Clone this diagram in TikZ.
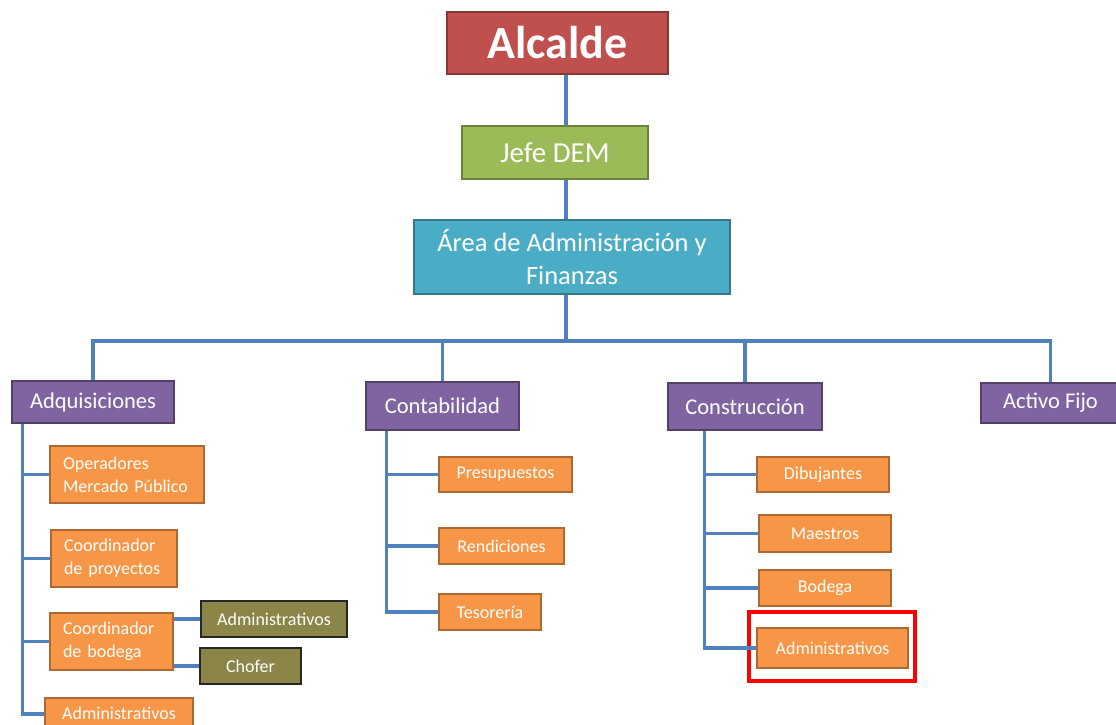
\documentclass[tikz,border=0pt]{standalone}
\usepackage{fontspec}
\setmainfont{Carlito}
\definecolor{alcred}{HTML}{C0504D}
\definecolor{jefegreen}{HTML}{9BBB59}
\definecolor{areateal}{HTML}{4BACC6}
\definecolor{deptpurple}{HTML}{8064A2}
\definecolor{unitorange}{HTML}{F79646}
\definecolor{subolive}{HTML}{8B8547}
\definecolor{wireblue}{HTML}{4F81BD}
\begin{document}
\begin{tikzpicture}[x=1pt,y=-1pt,
  box/.style={draw, line width=1.8pt, inner sep=0pt, text=white},
  top/.style={box, fill=alcred, draw=alcred!70!black},
  boss/.style={box, fill=jefegreen, draw=jefegreen!70!black},
  areabox/.style={box, fill=areateal, draw=areateal!70!black},
  dept/.style={box, fill=deptpurple, draw=deptpurple!65!black, font=\fontsize{22.5}{26}\selectfont},
  unit/.style={box, fill=unitorange, draw=unitorange!70!black, font=\fontsize{18}{23}\selectfont},
  sub/.style={box, fill=subolive, draw=black!85, font=\fontsize{18}{22}\selectfont},
  wire/.style={draw=wireblue, line width=3.2pt},
  hilite/.style={draw=red, line width=4pt, inner sep=0pt}
]
\useasboundingbox (0,0) rectangle (1116,725);
\clip (0,0) rectangle (1116,725);
\fill[white] (0,0) rectangle (1116,725);

% Top of the hierarchy
\node[top, minimum width=221, minimum height=62, font=\fontsize{46}{50}\selectfont\bfseries] (alc) at (557.5,43) {Alcalde};
\node[boss, minimum width=186, minimum height=53, font=\fontsize{29}{32}\selectfont] (jefe) at (555,152.5) {Jefe DEM};
\node[areabox, minimum width=316, minimum height=74, align=center, font=\fontsize{26.5}{33}\selectfont] (area) at (572,257) {Área de Administración y\\Finanzas};

% Departments
\node[dept, minimum width=162, minimum height=42] (adq) at (93,402) {Adquisiciones};
\node[dept, minimum width=153, minimum height=48] (cont) at (442.5,406) {Contabilidad};
\node[dept, minimum width=154, minimum height=47] (cons) at (745,406.5) {Construcción};
\node[dept, minimum width=139, minimum height=40] (act) at (1050.5,403) {Activo Fijo};

% Adquisiciones units
\node[unit, minimum width=154, minimum height=57, text width=128, align=left] (op) at (127,474.5) {Operadores\\Mercado Público};
\node[unit, minimum width=126, minimum height=57, text width=100, align=left] (cp) at (114,558.5) {Coordinador\\de proyectos};
\node[unit, minimum width=123, minimum height=57, text width=97, align=left] (cb) at (111.5,641.5) {Coordinador\\de bodega};
\node[unit, anchor=north, minimum width=148, inner ysep=9pt, text depth=24pt] (ad1) at (119,697) {Administrativos};
\node[sub, minimum width=146, minimum height=36] (ad2) at (274,619) {Administrativos};
\node[sub, minimum width=101, minimum height=36] (cho) at (250.5,666) {Chofer};

% Contabilidad units
\node[unit, minimum width=133, minimum height=35] (pre) at (505.5,474.5) {Presupuestos};
\node[unit, minimum width=125, minimum height=36] (ren) at (501.5,546) {Rendiciones};
\node[unit, minimum width=102, minimum height=36] (tes) at (490,612) {Tesorería};

% Construcción units
\node[unit, minimum width=132, minimum height=35] (dib) at (823,474.5) {Dibujantes};
\node[unit, minimum width=132, minimum height=37] (mae) at (825,533.5) {Maestros};
\node[unit, minimum width=132, minimum height=36] (bod) at (825,588) {Bodega};
\node[unit, minimum width=151, minimum height=40] (ad3) at (832.5,648) {Administrativos};
\node[hilite, minimum width=166, minimum height=69] (hl) at (832,646.5) {};

% Main spine and distribution bus
\coordinate (spine) at (566,0);
\coordinate (bus) at (0,341);
\draw[wire] (alc.south -| spine) -- (jefe.north -| spine);
\draw[wire] (jefe.south -| spine) -- (area.north -| spine);
\draw[wire] (area.south -| spine) -- (spine |- bus);
\draw[wire] (adq.north) -- (adq.north |- bus) -- (act.north |- bus) -- (act.north);
\draw[wire] (cont.north |- bus) -- (cont.north);
\draw[wire] (cons.north |- bus) -- (cons.north);

% Branches to the units
\coordinate (ta) at ([xshift=11]adq.south west);
\coordinate (ta1) at (ta |- 0,714);
\foreach \n in {op,cp,cb} \draw[wire] (ta) |- (\n.west);
\draw[wire] (ta) -- (ta1) -- (ta1 -| ad1.west);
\draw[wire] (ad2.west) -- (ad2.west -| cb.east);
\draw[wire] (cho.west) -- (cho.west -| cb.east);

\coordinate (tc) at ([xshift=21]cont.south west);
\foreach \n in {pre,ren,tes} \draw[wire] (tc) |- (\n.west);

\coordinate (tk) at ([xshift=37]cons.south west);
\foreach \n in {dib,mae,bod,ad3} \draw[wire] (tk) |- (\n.west);
\end{tikzpicture}
\end{document}
